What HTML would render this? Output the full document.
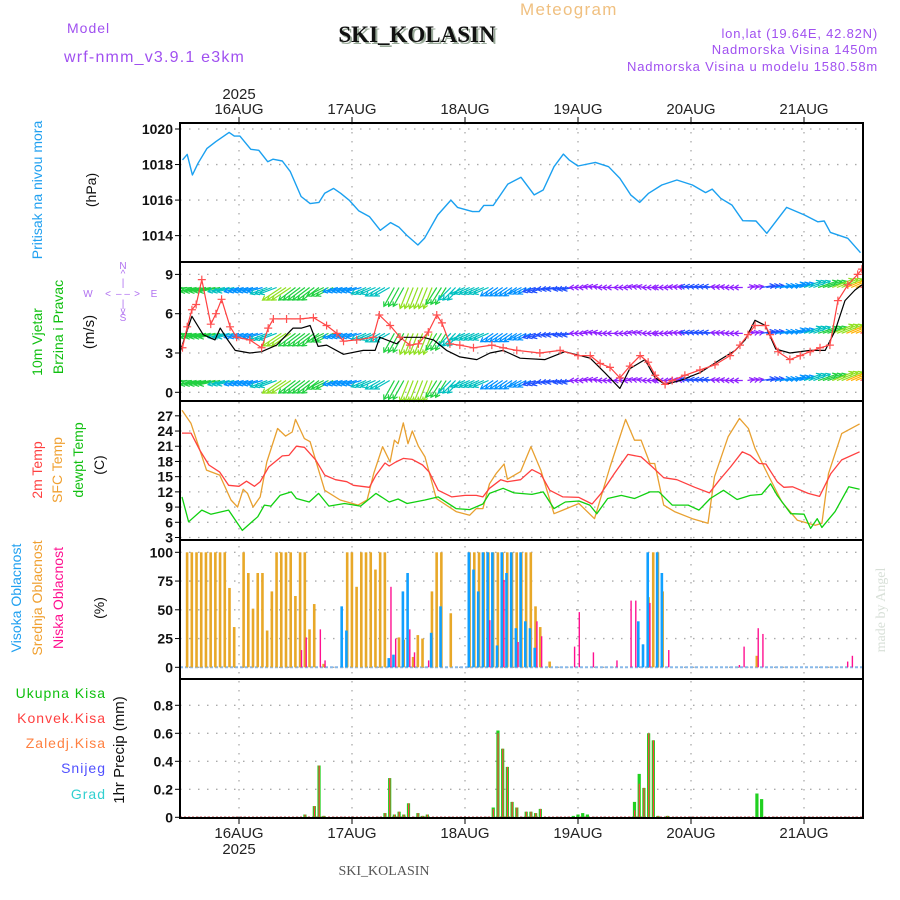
<!DOCTYPE html>
<html><head><meta charset="utf-8"><style>
html,body{margin:0;padding:0;background:#fff;}
svg{display:block;font-family:"Liberation Sans","DejaVu Sans",sans-serif;}
</style></head><body>
<svg id="chart" width="900" height="900" viewBox="0 0 900 900" xmlns="http://www.w3.org/2000/svg">
<rect x="0" y="0" width="900" height="900" fill="#fff"/>
<text x="67" y="33" font-size="14" fill="#a050f0" letter-spacing="1">Model</text>
<text x="64" y="62" font-size="16" fill="#a050f0" letter-spacing="1.2">wrf-nmm_v3.9.1 e3km</text>
<text x="520" y="15" font-size="17" fill="#f0c080" letter-spacing="1.3">Meteogram</text>
<text x="419" y="44" font-size="23" font-weight="bold" fill="#9a9" text-anchor="middle" font-family="Liberation Serif, serif">SKI_KOLASIN</text>
<text x="417" y="42" font-size="23" font-weight="bold" fill="#111" text-anchor="middle" font-family="Liberation Serif, serif">SKI_KOLASIN</text>
<text x="878" y="38" font-size="13" fill="#a050f0" text-anchor="end" letter-spacing="0.8">lon,lat (19.64E, 42.82N)</text>
<text x="878" y="54" font-size="13" fill="#a050f0" text-anchor="end" letter-spacing="0.8">Nadmorska Visina 1450m</text>
<text x="878" y="71" font-size="13" fill="#a050f0" text-anchor="end" letter-spacing="0.8">Nadmorska Visina u modelu 1580.58m</text>
<text x="239" y="99" font-size="15" fill="#222" text-anchor="middle">2025</text>
<text x="239" y="854" font-size="15" fill="#222" text-anchor="middle">2025</text>
<text x="384" y="875" font-size="14" fill="#555" text-anchor="middle" font-family="Liberation Serif, serif">SKI_KOLASIN</text>
<text transform="translate(885,610) rotate(-90)" font-size="14" fill="#d8e0d8" text-anchor="middle" font-family="Liberation Serif, serif">made by Angel</text>
<g id="labels"></g>
<g id="grid"></g>
<g id="marks"></g>
<g id="frames"></g>
</svg>
<script>
// ===== data (hours relative to 16AUG 00Z) =====
const dayLabels = ["16AUG","17AUG","18AUG","19AUG","20AUG","21AUG"];
const presH = [-12,-11,-9.9,-8.7,-6.8,-4.9,-2.1,-1,0.2,2.5,4.2,6.1,7.2,9.2,10.9,13.2,15.1,17,18.2,20.1,21.6,23.5,25.4,27.7,30,32.2,34,35.6,38,39.4,42.2,45,46.4,49.6,51,52,54,57.1,59.9,62.7,64.6,66.9,68.9,70.1,72,75.7,78.5,80.9,83.2,85.1,87,89.8,93,96.3,99.1,100.5,102.3,104.7,107,109.8,112.1,116.3,120.1,122.9,124.3,125.6,129.3,132];
const presV = [1018.26,1018.57,1017.41,1018.07,1018.91,1019.29,1019.81,1019.6,1019.6,1018.86,1018.8,1018.16,1018.3,1018.2,1017.6,1016.2,1015.8,1015.87,1016.38,1016.66,1016.38,1015.97,1015.4,1015.07,1014.3,1014.73,1014.47,1014.03,1013.47,1013.85,1015.16,1016.0,1015.59,1015.35,1015.35,1015.7,1015.7,1016.9,1017.28,1016.29,1016.57,1017.88,1018.59,1018.26,1017.92,1018.12,1017.88,1017.22,1016.29,1015.87,1016.38,1016.85,1017.13,1016.85,1016.42,1016.62,1016.1,1015.72,1014.84,1014.82,1014.13,1015.59,1015.16,1014.78,1014.82,1014.18,1013.85,1013.04];
const presTicks = [1020,1018,1016,1014];

const spdH = [-12,-11,-10,-9.1,-7.9,-6,-4.9,-3.7,-1.9,-0.5,2.3,4.8,6.2,7.3,10.1,13,15.8,18.6,20.8,22.2,25,28.5,29.8,32.1,34.2,36.3,38.1,40.2,42,43.1,44.8,46.9,49.8,53.7,56.1,59,63.9,68.2,72,74.6,76.7,78.8,80.9,83,85.2,86.9,88.4,90.5,92,94.7,97.9,101.1,104.3,106.4,108.1,109.6,111.8,112.8,114.5,117,119.2,121.3,123.4,125.5,127.2,129.3,131.4,132.3];
const spdV = [3.4,5.0,6.3,6.7,8.6,5.2,6.0,7.1,5.0,4.2,4.0,3.4,4.9,5.6,5.6,5.6,5.7,5.1,4.5,3.9,4.0,4.2,5.9,5.1,4.2,3.6,3.7,4.6,5.9,5.3,3.7,3.6,3.4,3.6,3.4,3.2,3.0,3.2,2.8,2.8,2.2,1.9,1.1,2.0,2.8,2.3,1.3,0.6,0.9,1.3,1.7,2.1,2.8,3.6,4.4,5.1,5.1,4.4,3.1,2.5,2.8,3.1,3.4,3.6,7.0,8.2,9.0,9.4];
const gustH = [-12.5,-10,-7.6,-5.1,-4,-2.6,-0.8,2.3,4.8,8,11.5,13.3,15.1,16.8,18.6,22.2,26.4,28.9,29.9,33.5,34.9,37.7,39.1,41.3,44.1,46.9,50.5,53.3,56.1,59.7,65,69.2,74.6,77.7,80.9,83,86.2,88.4,90.5,93.7,97.9,102.2,105.4,107.5,109.6,111.8,114,117,121.3,124.5,126.6,128.7,130.8,132.3];
const gustV = [3.1,5.8,4.4,4.0,4.9,4.1,3.2,3.0,3.1,3.6,4.9,4.9,5.1,3.5,3.6,2.9,3.2,3.2,4.2,3.7,4.2,4.2,4.2,4.0,3.2,2.7,2.5,3.0,3.2,2.6,2.5,3.1,2.6,1.5,0.3,1.8,2.5,1.1,0.6,0.9,1.5,2.5,3.2,4.0,5.5,5.1,3.3,3.0,3.2,3.2,4.7,7.0,7.8,8.2];
const windH = [-12,-9,-6,-3,0,3,6,9,12,15,18,21,24,27,30,33,36,39,42,45,48,51,54,57,60,63,66,69,72,75,78,81,84,87,90,93,96,99,102,105,108,111,114,117,120,123,126,129,132];
const windU = [-5,-5,-5,-4,-3.5,-3.5,-4,-4.5,-4,-4,-4,-3.5,-3.5,-3.5,-3.5,-2.5,-2,-2,-2.5,-3,-3.5,-3.5,-3,-3,-3,-3,-3,-2.5,-2,-2,-2,-1.5,-1.5,-1.5,-2,-2,-2.5,-2.5,-2,-2,1.5,3,3.5,3.5,4,4.5,5,6,7];
const windV = [-0.5,-1,-1,-1,-1,-1,-1.5,-3,-3,-3,-2,-1,-1,-1.5,-2,-4.5,-5,-5,-4,-3,-1.5,-1.5,-2,-2,-1.5,-1,-0.5,-0.5,0,0.3,0,0,0.3,0,0,0.2,0.3,0.3,0.2,0,0.3,0.5,0.5,1,1.5,1.5,2,2.5,3];
const windRows = [8.0, 4.5, 0.9];
const windTicks = [9,6,3,0];

const t2H = [-12.1,-10.2,-8.3,-6.4,-4.1,-2.2,0,1.6,3.3,4.5,6.3,9.2,10.6,12.2,13.9,16.3,18.2,20.5,22.9,24.3,27.7,29.1,31,31.9,33.3,34.9,36.8,39,40.4,42.3,45.2,48,50.4,51.8,53.2,55.6,57,59.8,62.2,64.1,66,68.8,72.2,75,76.9,79.7,82.6,85.4,87.8,90.2,93,96.8,99.9,102,104.4,106.9,108.6,110.5,111.9,114.3,115.7,117.6,120.9,123.3,125.7,128,131.8];
const t2V = [23.6,23.6,20.2,17.3,15.9,13.3,13.1,14.1,13.1,14.0,16.9,19.1,19.2,21.0,20.8,18.3,15.3,14.4,14.0,13.3,12.9,15.3,17.7,17.1,17.9,18.6,18.4,17.3,15.9,12.3,11.0,11.3,11.3,11.0,12.7,14.4,14.0,14.4,16.4,15.5,12.3,11.0,10.9,9.6,11.7,15.6,19.4,18.9,16.9,14.8,14.4,12.9,11.8,14.3,16.9,19.9,19.2,17.6,17.5,14.0,12.9,13.0,11.7,11.1,15.6,18.3,19.9];
const sfcH = [-12.1,-10.2,-6.9,-4.1,-1.7,-0.3,0.9,1.8,3,4.5,5.9,8.2,9.9,11.3,12,13.9,15.1,18.2,21.5,25.3,27.2,28.6,30.5,32.1,33,33.8,34.9,35.9,36.8,38.1,39.5,41.9,46.1,49,50.4,51.8,53.2,54.6,56.3,57,59.8,62,64.1,66.9,68.8,72.2,75.5,78.8,82.1,84,85.4,87.3,88.3,90.2,92.5,96.3,99.6,101,103.9,106.3,108.2,109.6,112.4,115.3,118.6,122.4,123.8,125.2,128,131.8];
const sfcV = [28.1,25.5,16.3,15.3,10.4,9.0,12.5,11.7,9.0,11.0,17.9,24.5,23.0,23.8,26.3,22.5,21.9,12.3,10.4,9.4,10.4,15.6,20.9,17.9,22.2,21.5,25.6,21.5,24.0,21.0,18.9,10.7,8.1,7.4,8.7,8.7,13.6,15.6,17.5,14.5,16.0,20.9,16.3,7.7,8.4,9.7,6.7,16.9,26.3,22.2,22.2,17.6,17.6,9.4,8.1,6.7,5.8,15.0,22.9,26.5,24.5,20.6,15.3,10.0,6.4,5.4,5.8,15.6,23.5,25.4];
const dewH = [-12.1,-10.7,-7.9,-6,-2.2,0.7,4,5.4,6.8,8.7,11.1,12.2,14.9,16.9,19.1,22.4,25.8,29.1,31.9,33.8,35.7,39.5,42.3,46.1,49,51.8,53.2,56.1,58.4,62.2,64.6,66.9,69.3,72.2,74.5,76,78.3,81.2,84,87.3,89.2,92,95.4,97.7,100.1,102.9,105.8,108.6,111,112.9,114.3,117.2,120,121.4,122.8,123.8,126.6,129.5,131.8];
const dewV = [11.0,6.1,8.4,7.6,8.4,4.4,7.1,9.4,9.2,11.3,12.0,10.7,10.0,11.7,9.2,9.7,9.2,11.7,10.0,10.6,9.7,10.4,11.0,8.7,8.5,9.6,11.7,12.7,11.8,11.5,12.0,8.7,10.0,10.2,9.4,7.7,10.7,11.3,10.7,12.0,12.0,9.4,9.4,8.4,10.7,12.3,10.5,11.3,11.5,13.6,11.3,7.7,7.6,4.8,6.7,5.0,8.1,13.0,12.5];
const tempTicks = [27,24,21,18,15,12,9,6,3];

const midH = [-11,-10,-9,-8,-7,-6,-5,-4,-3,-2,-1,1,2,3,4,5,6,7,8,9,10,11,12,13,14,15,16,18,23,24,25,26,27,28,29,30,31,34,35,37,38,39,41,42,43,45,49,50,51,52,53,54,55,56,57,58,59,60,61,62,63,64,66,87,88,89,90,110];
const midV = [100,100,100,100,100,100,100,100,100,69,35,100,82,51,82,82,32,66,100,100,100,100,62,100,100,33,55,3,100,100,70,100,100,100,85,100,100,26,24,9,28,25,66,100,100,47,100,100,100,100,100,100,100,100,100,100,100,100,100,100,53,35,5,61,100,100,66,10];
const highH = [22,23,32,33,35,36,41,43,49,50,51,52,53,54,55,56,57,58,59,60,61,62,63,85,86,87,89,90];
const highV = [53,32,8,11,66,82,30,53,100,85,66,100,100,100,19,100,82,100,34,100,40,34,17,40,20,100,100,82];
const lowH = [13,14,17,18,32,33,36,37,40,53,56,59,63,64,71,72,75,80,83,84,87,91,106,107,110,111,129,130];
const lowV = [15,26,33,6,70,25,33,13,6,41,76,22,40,27,18,48,13,6,58,58,56,15,2,18,34,29,5,10];
const cloudTicks = [100,75,50,25,0];

const precH = [14,16,17,18,31,32,33,34,35,36,38,39,40,54,55,56,57,58,59,61,62,63,64,71,72,73,74,84,85,86,87,88,89,91,110,111];
const precTot = [0.02,0.08,0.37,0.01,0.03,0.28,0.02,0.04,0.02,0.10,0.03,0.01,0.02,0.07,0.62,0.49,0.36,0.11,0.07,0.04,0.04,0.03,0.06,0.01,0.02,0.03,0.02,0.11,0.31,0.21,0.60,0.55,0.01,0.01,0.17,0.13];
const precConv = [0.02,0.08,0.37,0.01,0.03,0.28,0.02,0.04,0.02,0.10,0.03,0.01,0.02,0.06,0.60,0.49,0.36,0.11,0.07,0.04,0.04,0.03,0.06,0,0,0,0,0.05,0.24,0.21,0.60,0.55,0.01,0.01,0,0];
const precTicks = [0.8,0.6,0.4,0.2,0];

// ===== layout =====
const L = 180, R = 863;
const X = h => 239 + h * 113 / 24;
const P = {pres:[123,262], wind:[262,401], temp:[401,540], cloud:[540,679], prec:[679,818]};
const Ypres = v => 129 + (1020 - v) * 17.77;
const Ywind = v => 392.3 - v * 13.1;
const Ytemp = v => 537.5 - (v - 3) * 5.07;
const Ycloud = v => 667.3 - v * 1.15;
const Yprec = v => 817.3 - v * 140;

const NS = "http://www.w3.org/2000/svg";
function mk(parent, tag, attrs) {
  const e = document.createElementNS(NS, tag);
  for (const k in attrs) e.setAttribute(k, attrs[k]);
  parent.appendChild(e);
  return e;
}
const gL = document.getElementById('labels'), gG = document.getElementById('grid'),
      gM = document.getElementById('marks'), gF = document.getElementById('frames');

dayLabels.forEach((d, i) => {
  const x = X(i * 24);
  const ln = mk(gG, 'line', {x1:x, y1:123, x2:x, y2:818, stroke:'#aaa', 'stroke-width':1.3, 'stroke-dasharray':'1.5,7.5'});
  
  
  const tk = mk(gF, 'line', {x1:x, y1:117, x2:x, y2:123, stroke:'#000', 'stroke-width':1});
  
  
  const tb = mk(gF, 'line', {x1:x, y1:818, x2:x, y2:824, stroke:'#000', 'stroke-width':1});
  
  
  const t1 = mk(gL, 'text', {x:x, y:114, 'font-size':15, fill:'#222', 'text-anchor':'middle'});
  t1.textContent = d;
  
  
  const t2 = mk(gL, 'text', {x:x, y:838, 'font-size':15, fill:'#222', 'text-anchor':'middle'});
  t2.textContent = d;
  
  
});

function yTicks(ticks, Y, fmt, name) {
  ticks.forEach(v => {
    const y = Y(v);
    const g = mk(gG, 'line', {x1:L, y1:y, x2:R, y2:y, stroke:'#aaa', 'stroke-width':1.3, 'stroke-dasharray':'1.5,7.5'});
    
    
    const t = mk(gF, 'line', {x1:L - 5, y1:y, x2:L, y2:y, stroke:'#000', 'stroke-width':1});
    
    
    const tx = mk(gL, 'text', {x:L - 7, y:y + 5, 'font-size':14, 'font-weight':'bold', fill:'#111', 'text-anchor':'end'});
    tx.textContent = fmt(v);
    
    
  });
}
yTicks(presTicks, Ypres, v => String(v), 'pressure');
yTicks(windTicks, Ywind, v => String(v), 'wind');
yTicks(tempTicks, Ytemp, v => String(v), 'temp');
yTicks(cloudTicks, Ycloud, v => String(v), 'cloud');
yTicks(precTicks, Yprec, v => v === 0 ? '0' : v.toFixed(1), 'precip');

function vlabel(txt, x, y, color, size, name) {
  const t = mk(gL, 'text', {transform:`translate(${x},${y}) rotate(-90)`, 'font-size':size, fill:color, 'text-anchor':'middle'});
  t.textContent = txt;
  
  
}
vlabel('Pritisak na nivou mora', 42, 190, '#20a0f0', 14, 'pressure-title');
vlabel('(hPa)', 96, 190, '#111', 14, 'pressure-unit');
vlabel('10m Vjetar', 42, 342, '#10c010', 14, 'wind-title-1');
vlabel('Brzina i Pravac', 63, 327, '#10c010', 14, 'wind-title-2');
vlabel('(m/s)', 94, 332, '#111', 15, 'wind-unit');
vlabel('2m Temp', 42, 470, '#ff4040', 14, 'temp-2m-title');
vlabel('SFC Temp', 62, 470, '#f0a030', 14, 'temp-sfc-title');
vlabel('dewpt Temp', 83, 460, '#10c010', 14, 'temp-dewpt-title');
vlabel('(C)', 104, 465, '#111', 14, 'temp-unit');
vlabel('Visoka Oblacnost', 21, 598, '#20a0f0', 14, 'cloud-high-title');
vlabel('Srednja Oblacnost', 42, 598, '#f0a030', 14, 'cloud-mid-title');
vlabel('Niska Oblacnost', 63, 598, '#ff1090', 14, 'cloud-low-title');
vlabel('(%)', 104, 608, '#111', 14, 'cloud-unit');
vlabel('1hr Precip (mm)', 124, 750, '#111', 15, 'precip-title');
[['Ukupna Kisa',698,'#10c010'],['Konvek.Kisa',723,'#ff4040'],['Zaledj.Kisa',748,'#ff8040'],['Snijeg',773,'#5050ff'],['Grad',799,'#30d0d0']].forEach(a => {
  const t = mk(gL, 'text', {x:106, y:a[1], 'font-size':14, fill:a[2], 'text-anchor':'end', 'letter-spacing':'1'});
  t.textContent = a[0];
  
  
});
const cmp = mk(gL, 'g', {fill:'#b070f0', 'font-size':10, 'text-anchor':'middle'});


[['N',123,269],['^',123,277],['|',123,286],['W',88,297],['<',108,297],['\u2013 \u2013',123,297],['>',137,297],['E',154,297],['|',123,307],['v',123,314],['S',123,321]].forEach(a => {
  const t = mk(cmp, 'text', {x:a[1], y:a[2]});
  t.textContent = a[0];
});

// ===== marks =====
function path(hs, vs, Y, color, w, name) {
  const d = hs.map((h, i) => (i ? 'L' : 'M') + X(h).toFixed(1) + ',' + Y(vs[i]).toFixed(1)).join('');
  const p = mk(gM, 'path', {d:d, fill:'none', stroke:color, 'stroke-width':w, 'stroke-linejoin':'round'});
  
  
}
const clipP = mk(gM, 'clipPath', {id:'cp'});
mk(clipP, 'rect', {x:L, y:123, width:R - L, height:695});
gM.setAttribute('clip-path', 'url(#cp)');

path(presH, presV, Ypres, '#1aa0f0', 1.4, 'pressure-line');

function arrowColor(s) {
  if (s < 2.2) return '#9020ff';
  if (s < 3.2) return '#2050ff';
  if (s < 3.8) return '#0090ff';
  if (s < 4.4) return '#00c0c0';
  if (s < 5.2) return '#20d040';
  if (s < 6.2) return '#90e020';
  if (s < 7.2) return '#ffb000';
  return '#ff4040';
}
windRows.forEach(rv => {
  windH.forEach((h, i) => {
    const u = windU[i], v = windV[i], s = Math.hypot(u, v);
    const c = arrowColor(s);
    for (let j = 0; j < 3; j++) {
      const x0 = X(h + j), y0 = Ywind(rv);
      const k = 4.2;
      const x1 = x0 + u * k, y1 = y0 - v * k;
      const ang = Math.atan2(y1 - y0, x1 - x0);
      const hl = 5;
      const a1 = ang + 2.6, a2 = ang - 2.6;
      const ar = mk(gM, 'path', {d:`M${x0},${y0}L${x1},${y1}M${x1 + hl * Math.cos(a1)},${y1 + hl * Math.sin(a1)}L${x1},${y1}L${x1 + hl * Math.cos(a2)},${y1 + hl * Math.sin(a2)}`, fill:'none', stroke:c, 'stroke-width':1.2});
      
      
    }
  });
});
path(gustH, gustV, Ywind, '#000', 1.2, 'wind-speed-black-line');
path(spdH, spdV, Ywind, '#ff4040', 1.2, 'wind-speed-red-line');
spdH.forEach((h, i) => {
  const x = X(h), y = Ywind(spdV[i]);
  const m = mk(gM, 'path', {d:`M${x - 4},${y}H${x + 4}M${x},${y - 4}V${y + 4}`, stroke:'#ff5050', 'stroke-width':1.2});
  
  
});

path(sfcH, sfcV, Ytemp, '#e8a030', 1.3, 'sfc-temp-line');
path(t2H, t2V, Ytemp, '#ff4040', 1.3, 'temp-2m-line');
path(dewH, dewV, Ytemp, '#10d010', 1.3, 'dewpoint-line');

const base = mk(gM, 'line', {x1:L, y1:Ycloud(0), x2:R, y2:Ycloud(0), stroke:'#88b8e8', 'stroke-width':2, 'stroke-dasharray':'3,2'});


function bars(hs, vs, Y, color, off, w, name) {
  hs.forEach((h, i) => {
    const y = Y(vs[i]), y0 = Y(0);
    const r = mk(gM, 'rect', {x:X(h) + off, y:Math.min(y, y0), width:w, height:Math.abs(y0 - y), fill:color});
    
    
  });
}
bars(midH, midV, Ycloud, '#e8a828', -1.4, 2.6, 'mid-cloud-bar');
bars(highH, highV, Ycloud, '#10a0ff', -2.2, 2.6, 'high-cloud-bar');
bars(lowH, lowV, Ycloud, '#ff1090', 0.6, 1.4, 'low-cloud-bar');

const pb = mk(gM, 'line', {x1:L, y1:Yprec(0), x2:R, y2:Yprec(0), stroke:'#c04040', 'stroke-width':1.5, 'stroke-dasharray':'2,2'});


bars(precH, precTot, Yprec, '#20d020', -1.6, 3.2, 'total-precip-bar');
bars(precH, precConv, Yprec, '#ff4040', -0.5, 1.2, 'convective-precip-bar');

Object.keys(P).forEach(k => {
  const r = mk(gF, 'rect', {x:L, y:P[k][0], width:R - L, height:P[k][1] - P[k][0], fill:'none', stroke:'#000', 'stroke-width':2});
  
  
});
</script>
</body></html>
